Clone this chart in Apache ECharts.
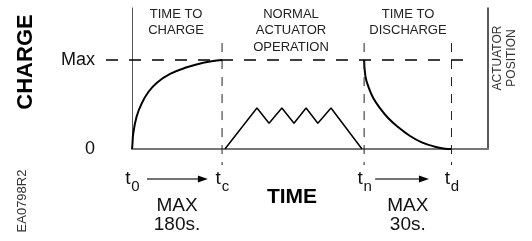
<!DOCTYPE html>
<html>
<head>
<meta charset="utf-8">
<script src="https://cdn.jsdelivr.net/npm/echarts@6/dist/echarts.min.js"></script>
<style>
  html, body { margin: 0; padding: 0; background: #fff; }
  #main { width: 532px; height: 241px; }
</style>
</head>
<body>
<div id="main"></div>
<script>
// x = time (0..100 across the frame), y = charge (Max = 1)
var timeMarks = [0, 25.3, 65.2, 89.75];      // t0, tc, tn, td
var timeSubs = ['0', 'c', 'n', 'd'];
var yTickLabels = ['0', 'Max'];
var maxLevel = 1;
var maxLineRange = [-7.3, 93];

var chargeX = [0, 0.08, 0.37, 1.3, 2.7, 4.6, 7, 10.7, 15.4, 20, 25.3];
var chargeY = [0, 0.03, 0.18, 0.365, 0.51, 0.64, 0.745, 0.843, 0.918, 0.97, 1];

var operX = [26.1, 35.1, 38.5, 42.1, 45.5, 48.9, 52.2, 55.9, 64.6];
var operY = [0, 0.46, 0.29, 0.46, 0.29, 0.46, 0.29, 0.46, 0];

var dischargeX = [65.2, 65.6, 66.4, 67.8, 69.7, 72.0, 74.8, 78.1, 81.4, 85.1, 87.9, 89.75];
var dischargeY = [1, 0.81, 0.70, 0.57, 0.457, 0.345, 0.244, 0.146, 0.075, 0.026, 0.003, 0];

var phaseLabels = [
    {x: 176, lines: ['TIME TO', 'CHARGE']},
    {x: 291, lines: ['NORMAL', 'ACTUATOR', 'OPERATION']},
    {x: 408, lines: ['TIME TO', 'DISCHARGE']}
];
var durations = [
    {from: 0, to: 1, text: ['MAX', '180s.']},
    {from: 2, to: 3, text: ['MAX', '30s.']}
];

var FONT = 'Liberation Sans, Arial, Helvetica, sans-serif';

function pts(xs, ys) {
    return xs.map(function (x, i) { return [x, ys[i]]; });
}

var chart = echarts.init(document.getElementById('main'));

var dashV = [9, 8];
var series = [
    {type: 'line', data: pts(chargeX, chargeY), smooth: 0.4, symbol: 'none',
        lineStyle: {color: '#000', width: 2}},
    {type: 'line', data: pts(operX, operY), symbol: 'none',
        lineStyle: {color: '#000', width: 1.5}},
    {type: 'line', data: pts(dischargeX, dischargeY), smooth: 0.4, symbol: 'none',
        lineStyle: {color: '#000', width: 2}}
];
// vertical dashed markers at tc, tn, td
timeMarks.slice(1).forEach(function (t) {
    series.push({type: 'line', data: [[t, 1.19], [t, -0.18]], symbol: 'none', clip: false,
        lineStyle: {color: '#222', width: 1, type: dashV}});
});
// arrows under the axis
var arrowY = -0.337;
var arrows = [[4.2, 19.9], [68.3, 82.0]];
arrows.forEach(function (a) {
    series.push({type: 'line', clip: false, symbol: 'none', showSymbol: true,
        data: [
            {value: [a[0], arrowY]},
            {value: [a[1], arrowY], symbol: 'path://M0,0L12,5L0,10Z', symbolSize: [10, 7],
                itemStyle: {color: '#000'}}
        ],
        lineStyle: {color: '#444', width: 1.5}});
});

var option = {
    animation: false,
    grid: {left: 132, right: 44, top: 8, bottom: 92},
    xAxis: {
        type: 'value', min: 0, max: 100,
        axisLine: {lineStyle: {color: '#777', width: 2}},
        axisTick: {show: false}, axisLabel: {show: false}, splitLine: {show: false}
    },
    yAxis: [{
        type: 'value', min: 0, max: 1.584, interval: 1,
        axisLine: {show: true, lineStyle: {color: '#555', width: 1}},
        axisTick: {show: false}, splitLine: {show: false},
        axisLabel: {
            margin: 37, fontSize: 18, color: '#111', fontFamily: FONT,
            showMaxLabel: false,
            formatter: function (v) { return yTickLabels[v] || ''; }
        }
    }, {
        type: 'value', position: 'right', min: 0, max: 1.584,
        axisLine: {show: true, lineStyle: {color: '#222', width: 1.5}},
        axisTick: {show: false}, axisLabel: {show: false}, splitLine: {show: false}
    }],
    series: series
};
chart.setOption(option);

function txt(x, y, text, size, opts) {
    opts = opts || {};
    return {
        type: 'text', x: x, y: y, rotation: opts.rot || 0, silent: true,
        style: {
            text: text, fill: opts.color || '#111',
            font: (opts.bold ? 'bold ' : '') + size + 'px ' + FONT,
            align: 'center', verticalAlign: 'middle'
        }
    };
}

var g = [];
// Max level dashed line, reaching left past the axis to the "Max" label
var p1 = chart.convertToPixel({xAxisIndex: 0, yAxisIndex: 0}, [maxLineRange[0], maxLevel]);
var p2 = chart.convertToPixel({xAxisIndex: 0, yAxisIndex: 0}, [maxLineRange[1], maxLevel]);
g.push({
    type: 'line', silent: true, z: 10,
    shape: {x1: p1[0], y1: p1[1], x2: p2[0], y2: p2[1]},
    style: {stroke: '#000', lineWidth: 1.6, lineDash: [12, 11]}
});

g.push(txt(26, 62, 'CHARGE', 22, {bold: true, rot: Math.PI / 2, color: '#000'}));
g.push(txt(22, 201, 'EA0798R2', 13, {rot: Math.PI / 2, color: '#333'}));
g.push(txt(498, 58, 'ACTUATOR', 12, {rot: Math.PI / 2, color: '#333'}));
g.push(txt(512, 58, 'POSITION', 12, {rot: Math.PI / 2, color: '#333'}));
phaseLabels.forEach(function (p) {
    p.lines.forEach(function (l, i) {
        g.push(txt(p.x, 14 + i * 16.5, l, 13, {color: '#222'}));
    });
});
g.push(txt(292, 197, 'TIME', 21, {bold: true, color: '#000'}));

var px = timeMarks.map(function (t) {
    return chart.convertToPixel({xAxisIndex: 0}, t);
});
px.forEach(function (p, i) {
    var cx = p - 4;
    g.push(txt(cx, 179, 't', 19, {color: '#111'}));
    g.push(txt(cx + 7.5, 187, timeSubs[i], 15, {color: '#111'}));
});
durations.forEach(function (d) {
    var cx = (px[d.from] + px[d.to]) / 2;
    g.push(txt(cx, 206, d.text[0], 19, {color: '#111'}));
    g.push(txt(cx, 225, d.text[1], 19, {color: '#111'}));
});

chart.setOption({graphic: g});
</script>
</body>
</html>
